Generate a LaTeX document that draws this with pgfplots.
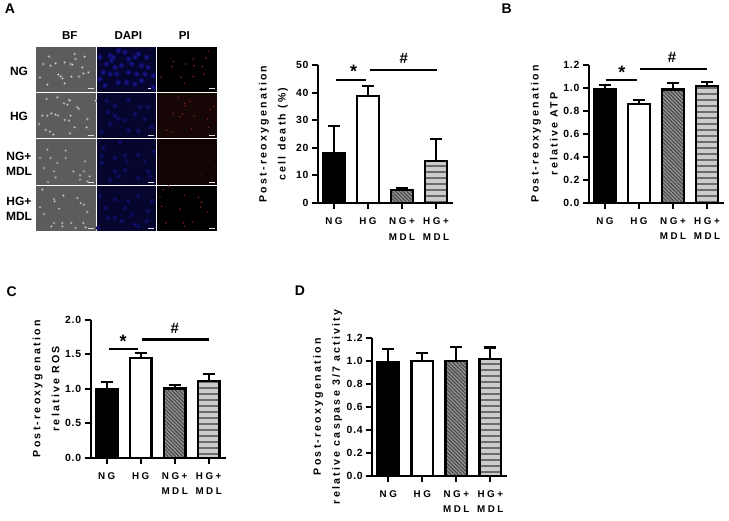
\documentclass[border=0pt]{standalone}
\usepackage{pgfplots}
\pgfplotsset{compat=1.18}
\usepackage{fontspec}
\usetikzlibrary{patterns.meta}
\setmainfont{Liberation Sans}
\newfontfamily\tickf[LetterSpace=8]{Liberation Sans}
\newfontfamily\labf[LetterSpace=26]{Liberation Sans}
\newfontfamily\ylabf[LetterSpace=21]{Liberation Sans}
\definecolor{bfbg}{HTML}{5C5C5C}
\definecolor{dapibg}{HTML}{05052E}
\definecolor{pihg}{HTML}{170606}
\definecolor{pingm}{HTML}{120404}
\definecolor{bfglow}{HTML}{808080}
\definecolor{bfcore}{HTML}{E4E4E4}
\definecolor{d1glow}{HTML}{0E0E64}
\definecolor{d1core}{HTML}{1A1A9C}
\definecolor{d2glow}{HTML}{0A0A50}
\definecolor{d2core}{HTML}{141478}
\definecolor{pglow}{HTML}{401010}
\definecolor{pcore}{HTML}{B03030}
\definecolor{pdglow}{HTML}{2A0A0A}
\definecolor{pdcore}{HTML}{602020}
\newcommand{\tile}[5]{%
  \addplot[fill=#5,draw=none] coordinates {(#1,#2)(#3,#2)(#3,#4)(#1,#4)} --cycle;
  \addplot[white!75!gray,line width=0.9pt] coordinates {(#3-8,#4-3)(#3-2,#4-3)};
}
% zoomed-crop coordinates: glow colour, core colour, glow size, core size, origin x, origin y, points
\newcommand{\spots}[7]{%
  \addplot[only marks,mark=*,mark size=#3,mark options={draw=none,draw opacity=0,fill=#1,line width=0pt}]
    table[row sep=\\,x expr={#5+\thisrow{a}/3},y expr={#6+\thisrow{b}/3}] {a b\\ #7};
  \addplot[only marks,mark=*,mark size=#4,mark options={draw=none,draw opacity=0,fill=#2,line width=0pt}]
    table[row sep=\\,x expr={#5+\thisrow{a}/3},y expr={#6+\thisrow{b}/3}] {a b\\ #7};
}
\pgfplotsset{
  bars/.style={
    scale only axis, width=135pt, height=138pt, clip=false,
    axis lines=left, axis line style={-,line width=2.2pt},
    xmin=-0.47, xmax=3.5, xtick={0,1,2,3},
    xticklabels={NG,HG,{NG+\\MDL},{HG+\\MDL}},
    tick style={black,line width=2pt}, major tick length=6pt, tick align=outside,
    xtick pos=bottom, ytick pos=left,
    xticklabel style={align=center,yshift=-5pt,font=\labf\bfseries\fontsize{9.8}{15.7}\selectfont},
    yticklabel style={font=\tickf\bfseries\fontsize{10.4}{11}\selectfont},
    /pgf/number format/assume math mode=true,
    every axis y label/.style={at={(axis description cs:-0.33,0.5)},rotate=90,anchor=center,align=center,
      font=\ylabf\bfseries\fontsize{10.6}{19}\selectfont},
  },
  barbase/.style={ybar,bar shift=0pt,bar width=21.6pt,line width=2.3pt,draw=black,
    error bars/y dir=plus,error bars/y explicit,
    error bars/error bar style={line width=2.2pt,black},
    error bars/error mark options={rotate=90,mark size=6pt,line width=2.2pt,black}},
  b1/.style={barbase,fill=black},
  b2/.style={barbase,fill=white},
  b3/.style={barbase,preaction={fill=black!42},pattern={Lines[angle=-45,distance=2.6pt,line width=1.1pt]},pattern color=black!72},
  b4/.style={barbase,preaction={fill=black!20},pattern={Lines[angle=0,distance=6pt,line width=1.1pt]},pattern color=black!58},
  dec/.style={black,line width=2.2pt,forget plot},
}
\newcommand{\fourbars}[8]{%
  \addplot[b1] coordinates {(0,#1) +- (0,#2)};
  \addplot[b2] coordinates {(1,#3) +- (0,#4)};
  \addplot[b3] coordinates {(2,#5) +- (0,#6)};
  \addplot[b4] coordinates {(3,#7) +- (0,#8)};
}
\begin{document}
\begin{tikzpicture}[x=1pt,y=1pt]
\path (0,0) rectangle (729pt,520pt);
\begin{axis}[at={(0pt,0pt)},anchor=south west,scale only axis,width=729pt,height=520pt,
  xmin=0,xmax=729,ymin=0,ymax=520,y dir=reverse,hide axis,clip=false]
% tiles
\tile{36}{46.7}{95.7}{91.7}{bfbg}
\tile{36}{92.7}{95.7}{138.3}{bfbg}
\tile{36}{139.3}{95.7}{185}{bfbg}
\tile{36}{186}{95.7}{231}{bfbg}
\tile{96.7}{46.7}{156}{91.7}{dapibg}
\tile{96.7}{92.7}{156}{138.3}{dapibg}
\tile{96.7}{139.3}{156}{185}{dapibg}
\tile{96.7}{186}{156}{231}{dapibg}
\tile{157.3}{46.7}{216.7}{91.7}{black}
\tile{157.3}{92.7}{216.7}{138.3}{pihg}
\tile{157.3}{139.3}{216.7}{185}{pingm}
\tile{157.3}{186}{216.7}{231}{black}
% BF
\spots{bfglow}{bfcore}{1.7}{0.6}{34}{44}{45 38\\50 65\\73 92\\92 55\\110 60\\115 62\\122 30\\152 38\\145 70\\148 88\\112 98\\85 103\\80 97\\92 118\\40 122\\18 100\\135 98\\65 58\\125 45\\163 85\\28 60\\}
\spots{bfglow}{bfcore}{1.7}{0.6}{34}{44}{38 165\\70 160\\105 168\\108 170\\90 178\\100 182\\135 195\\130 190\\40 215\\52 208\\65 212\\72 215\\110 215\\92 228\\105 230\\160 225\\158 250\\35 258\\48 263\\58 272\\108 268\\122 250\\15 240\\185 170\\25 215\\}
\spots{bfglow}{bfcore}{1.6}{0.5}{34}{138}{95 38\\70 75\\153 70\\60 100\\65 118\\42 132\\138 112\\138 125\\167 115\\118 100\\150 100\\18 60\\50 60\\95 60\\40 35\\30 90\\160 130\\}
\spots{bfglow}{bfcore}{1.6}{0.6}{34}{138}{60 183\\62 190\\88 173\\130 180\\140 195\\150 200\\18 208\\75 212\\30 228\\160 222\\60 255\\112 255\\85 265\\85 255\\148 255\\125 270\\52 265\\25 155\\155 268\\}
% DAPI
\spots{d1glow}{d1core}{2.8}{1.2}{95}{44}{55 40\\45 35\\70 20\\100 45\\120 40\\130 30\\35 60\\60 70\\80 65\\110 60\\140 65\\160 70\\25 85\\45 90\\65 90\\100 85\\125 90\\150 90\\30 125\\70 115\\95 115\\120 120\\140 110\\175 95\\15 105\\15 40\\155 40\\175 130\\50 50\\90 25\\}
\spots{d2glow}{d2core}{2.6}{1.1}{95}{44}{35 170\\60 185\\100 170\\60 215\\70 225\\90 228\\120 210\\45 240\\150 225\\20 265\\130 260\\160 190\\100 260\\170 250\\40 205\\135 190\\}
\spots{d2glow}{d2core}{2.4}{1.0}{95}{138}{75 12\\175 40\\20 55\\90 52\\60 60\\95 70\\150 70\\60 100\\90 97\\160 100\\45 125\\130 120\\70 115\\20 75\\130 50\\165 115\\25 30\\}
\spots{d2glow}{d2core}{2.4}{1.0}{95}{138}{15 175\\30 210\\60 185\\100 190\\130 175\\160 220\\90 210\\60 240\\10 270\\130 265\\80 250\\40 240\\155 250\\110 230\\170 190\\120 260\\}
% PI
\spots{pglow}{pcore}{1.1}{0.45}{95}{44}{235 52\\297 65\\232 68\\332 42\\198 100\\295 98\\258 100\\328 90\\322 68\\340 22\\268 118\\272 60\\295 45\\}
\spots{pglow}{pcore}{1.1}{0.45}{95}{44}{235 208\\270 178\\285 172\\230 264\\215 258\\250 160\\262 210\\255 218\\297 215\\338 225\\345 195\\357 187\\270 185\\290 255\\340 250\\}
\spots{pdglow}{pdcore}{1}{0.4}{95}{138}{320 102\\320 112\\340 70\\}
\spots{pglow}{pcore}{1.1}{0.45}{95}{138}{205 155\\195 177\\320 193\\317 207\\338 222\\255 213\\265 255\\292 252\\212 255\\268 172\\200 205\\220 145\\268 265\\310 178\\}
% texts
\node[font=\bfseries\fontsize{14}{14}\selectfont] at (axis cs:10,9) {A};
\node[font=\bfseries\fontsize{14}{14}\selectfont] at (axis cs:506.7,9) {B};
\node[font=\bfseries\fontsize{14}{14}\selectfont] at (axis cs:11.7,291.7) {C};
\node[font=\bfseries\fontsize{14}{14}\selectfont] at (axis cs:300,291) {D};
\node[font=\bfseries\fontsize{11.5}{12}\selectfont] at (axis cs:69.7,35.7) {BF};
\node[font=\bfseries\fontsize{11.5}{12}\selectfont] at (axis cs:128.3,35.7) {DAPI};
\node[font=\bfseries\fontsize{11.5}{12}\selectfont] at (axis cs:184.3,35.7) {PI};
\node[font=\bfseries\fontsize{12}{12}\selectfont] at (axis cs:19,71.7) {NG};
\node[font=\bfseries\fontsize{12}{12}\selectfont] at (axis cs:19,116.7) {HG};
\node[font=\bfseries\fontsize{12}{15}\selectfont,align=center] at (axis cs:19,164) {NG+\\MDL};
\node[font=\bfseries\fontsize{12}{15}\selectfont,align=center] at (axis cs:19,209) {HG+\\MDL};
\end{axis}

% Panel A chart
\begin{axis}[bars,at={(318pt,317pt)},anchor=south west,
  ymin=0,ymax=50,ytick={0,10,...,50},
  ylabel={Post-reoxygenation\\cell death (\%)}]
\fourbars{18.2}{9.6}{38.8}{3.7}{4.6}{0.9}{15.3}{8}
\addplot[dec] coordinates {(0.06,44.6)(0.94,44.6)};
\addplot[dec] coordinates {(1.05,48.3)(3.03,48.3)};
\node[font=\bfseries\fontsize{18}{18}\selectfont] at (axis cs:0.58,47.8) {*};
\node[font=\bfseries\fontsize{15}{15}\selectfont] at (axis cs:2.05,52.5) {\#};
\end{axis}

% Panel B
\begin{axis}[bars,at={(589pt,317.3pt)},anchor=south west,
  ymin=0,ymax=1.2,ytick={0,0.2,...,1.21},
  y tick label style={/pgf/number format/.cd,fixed,fixed zerofill,precision=1},
  ylabel={Post-reoxygenation\\relative ATP}]
\fourbars{0.99}{0.03}{0.86}{0.03}{0.985}{0.055}{1.015}{0.035}
\addplot[dec] coordinates {(0.04,1.069)(0.93,1.069)};
\addplot[dec] coordinates {(1.04,1.165)(3.0,1.165)};
\node[font=\bfseries\fontsize{18}{18}\selectfont] at (axis cs:0.5,1.135) {*};
\node[font=\bfseries\fontsize{15}{15}\selectfont] at (axis cs:1.97,1.26) {\#};
\end{axis}

% Panel C
\begin{axis}[bars,at={(90.7pt,62.3pt)},anchor=south west,
  ymin=0,ymax=2,ytick={0,0.5,...,2},
  y tick label style={/pgf/number format/.cd,fixed,fixed zerofill,precision=1},
  ylabel={Post-reoxygenation\\relative ROS}]
\fourbars{0.995}{0.105}{1.445}{0.075}{1.005}{0.045}{1.115}{0.095}
\addplot[dec] coordinates {(0.06,1.58)(0.92,1.58)};
\addplot[dec] coordinates {(1.04,1.714)(3.0,1.714)};
\node[font=\bfseries\fontsize{18}{18}\selectfont] at (axis cs:0.48,1.69) {*};
\node[font=\bfseries\fontsize{15}{15}\selectfont] at (axis cs:2,1.88) {\#};
\end{axis}

% Panel D
\begin{axis}[bars,at={(372.3pt,44.3pt)},anchor=south west,
  ymin=0,ymax=1.2,ytick={0,0.2,...,1.21},
  y tick label style={/pgf/number format/.cd,fixed,fixed zerofill,precision=1},
  ylabel={Post-reoxygenation\\relative caspase 3/7 activity}]
\fourbars{0.99}{0.115}{1.0}{0.07}{1.0}{0.12}{1.015}{0.1}
\end{axis}
\end{tikzpicture}
\end{document}
